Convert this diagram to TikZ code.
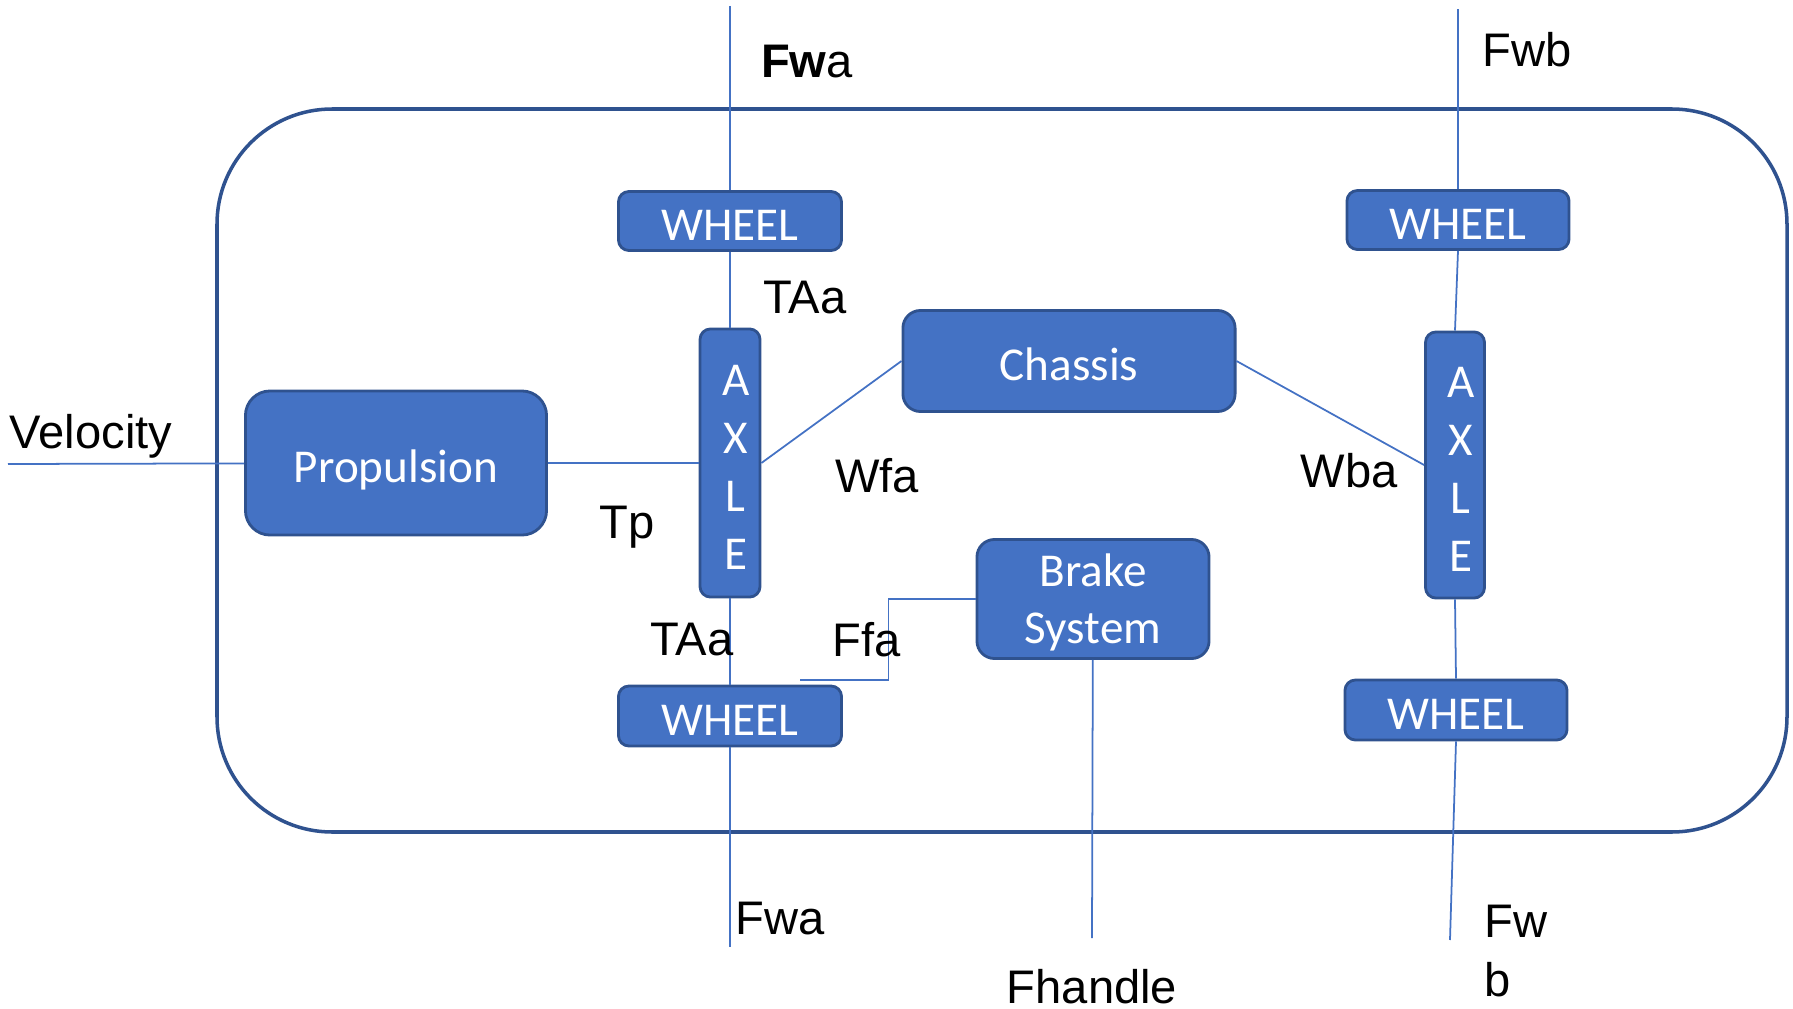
\documentclass[tikz,border=0pt]{standalone}
\usepackage{fontspec}
\setmainfont{Liberation Sans}
\newfontfamily\boxfont{Carlito}
\usetikzlibrary{positioning}
\definecolor{boxblue}{HTML}{4472C4}
\definecolor{boxedge}{HTML}{2F528F}
\newcommand{\axsp}{\hspace*{3.2pt}}

\begin{document}
\begin{tikzpicture}[x=0.01cm, y=-0.01cm,
		blk/.style={draw=boxedge, line width=0.8pt, fill=boxblue, rounded corners=3pt, text=white, align=center, inner sep=0pt, font=\boxfont\fontsize{13.4}{16.5}\selectfont},
		oneline/.style={text height=11pt, text depth=0pt},
		lbl/.style={inner sep=0pt, font=\fontsize{13.4}{16.7}\selectfont},
		wire/.style={draw=boxblue, line width=0.5pt}]
		\useasboundingbox (0,0) rectangle (1793,1009);
		\draw [draw=boxedge, line width=1pt, rounded corners=1.15cm] (217,109) rectangle (1787,832);

		\node [blk, oneline, minimum width=2.23cm, minimum height=0.59cm] (wheelta) at (730,221) {WHEEL};
		\node [blk, oneline, minimum width=2.22cm, minimum height=0.59cm] (wheeltb) at (1458,220) {WHEEL};
		\node [blk, oneline, minimum width=2.23cm, minimum height=0.60cm] (wheelba) at (730,716) {WHEEL};
		\node [blk, oneline, minimum width=2.22cm, minimum height=0.60cm] (wheelbb) at (1456,710) {WHEEL};
		\node [blk, text height=60.7pt, text depth=0pt, minimum width=0.60cm, minimum height=2.68cm] (axlea) at (730,463) {\axsp A\\\axsp X\\\axsp L\\\axsp E};
		\node [blk, text height=60.7pt, text depth=0pt, minimum width=0.59cm, minimum height=2.66cm] (axleb) at (1455,465) {\axsp A\\\axsp X\\\axsp L\\\axsp E};
		\node [blk, oneline, rounded corners=5pt, minimum width=3.32cm, minimum height=1.01cm] (chassis) at (1069,361) {Chassis};
		\node [blk, oneline, rounded corners=7pt, minimum width=3.01cm, minimum height=1.44cm] (prop) at (396,463) {Propulsion};
		\node [blk, text depth=-1.5pt, rounded corners=5pt, minimum width=2.32cm, minimum height=1.19cm, font=\boxfont\fontsize{13.4}{16.2}\selectfont] (brake) at (1093,599) {Brake\\System};

		\coordinate (topa) at (730,6);
		\coordinate (bota) at (730,947);
		\coordinate (topb) at (1458,9);
		\coordinate (botb) at (1450,940);
		\coordinate (vel) at (8,464);
		\coordinate (ffa) at (800,680);
		\coordinate (hand) at (1092,938);

		% wheel a
		\draw [wire] (topa) -- (wheelta);
		\draw [wire] (wheelta) -- (axlea);
		\draw [wire] (axlea) -- (wheelba);
		\draw [wire] (wheelba) -- (bota);
		% wheel b
		\draw [wire] (topb) -- (wheeltb);
		\draw [wire] (wheeltb.south) -- (axleb.north);
		\draw [wire] (axleb.south) -- (wheelbb.north);
		\draw [wire] (wheelbb.south) -- (botb);

		\draw [wire] (vel) -- (prop);
		\draw [wire] (prop) -- (axlea);
		\draw [wire] (axlea.east) -- (chassis.west);
		\draw [wire] (chassis.east) -- (axleb.west);
		\draw [wire] (brake.west) -- ++(-87,0) |- (ffa);
		\draw [wire] (brake) -- (hand);

		\node [lbl] (fwat) at (807,62) {\textbf{Fw}a};
		\node [lbl] (fwbt) at (1527,50) {Fwb};
		\node [lbl] (taat) at (805,298) {TAa};
		\node [lbl] (tp) at (627,527) {Tp};
		\node [lbl] (wfa) at (877,476) {Wfa};
		\node [lbl] (wba) at (1349,471) {Wba};
		\node [lbl] (taab) at (692,640) {TAa};
		\node [lbl] (ffalbl) at (867,640) {Ffa};
		\node [lbl] (velo) at (91,436) {Velocity};
		\node [lbl] (fwab) at (780,919) {Fwa};
		\node [lbl] (fhandle) at (1092,987) {Fhandle};
		\node [lbl, align=left, anchor=west] (fwbb) at (1484,951) {Fw\\b};
	\end{tikzpicture}
\end{document}
